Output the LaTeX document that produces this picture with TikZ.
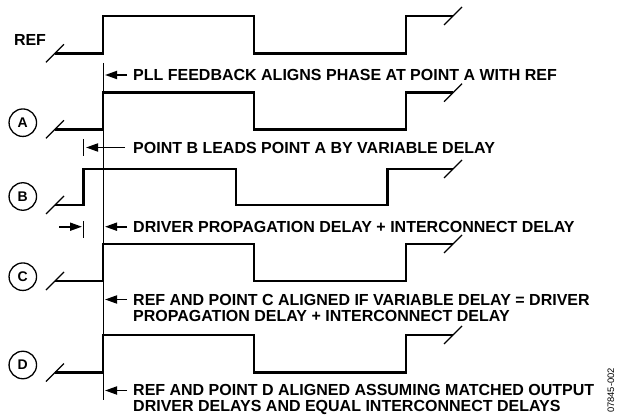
\documentclass[tikz,border=0pt]{standalone}
\usepackage{fontspec}
\setmainfont{Liberation Sans}
\usetikzlibrary{arrows.meta}
\newcommand\sigwave[5]{%
  \draw[sig] (55,#1) -- (#3,#1) -- (#3,#2) -- (#4,#2) -- (#4,#1) -- (#5,#1) -- (#5,#2) -- (453,#2);
  \draw[brk] (46,#1+9) -- (64,#1-9);
  \draw[brk] (444,#2+9) -- (462,#2-9);
}
\begin{document}
\begin{tikzpicture}[x=1pt,y=-1pt,
  sig/.style={line width=2.8pt, line join=miter, line cap=butt},
  brk/.style={line width=1.3pt},
  refline/.style={line width=0.9pt},
  tick/.style={line width=1.1pt},
  lbl/.style={circle, draw, line width=1.3pt, minimum size=27.5pt, inner sep=0pt, font=\fontsize{14}{14}\selectfont\bfseries},
  txt/.style={anchor=west, inner sep=0pt, font=\fontsize{16}{16}\selectfont\bfseries, align=left},
  arr/.style={line width=1.8pt, -{Triangle[length=12pt,width=8pt]}},
]
\useasboundingbox (0,0) rectangle (617,419);

% waveforms
\sigwave{53.3}{16}{103}{254}{406}
\sigwave{129.3}{92.7}{103}{254}{406}
\sigwave{205}{169}{83.3}{236}{387.3}
\sigwave{281}{244}{103}{254}{406}
\sigwave{372.5}{335}{103}{254}{406}

% labels
\node[font=\fontsize{16}{16}\selectfont\bfseries, inner sep=0pt] (reflbl) at (30,40) {REF};
\node[lbl] (A) at (22.8,122.7) {A};
\node[lbl] (B) at (22.8,196.5) {B};
\node[lbl] (C) at (22.8,276.7) {C};
\node[lbl] (D) at (22.8,365) {D};

% reference line
\coordinate (vtop) at (103.6,63);
\coordinate (vbot) at (103.6,400);
\draw[refline] (vtop) -- (vbot);

% ticks
\coordinate (k1a) at (83.3,139);
\coordinate (k1b) at (83.3,156);
\coordinate (k2a) at (83.3,221);
\coordinate (k2b) at (83.3,238);
\draw[tick] (k1a) -- (k1b);
\draw[tick] (k2a) -- (k2b);

% texts
\node[txt] (t1) at (133,75) {PLL FEEDBACK ALIGNS PHASE AT POINT A WITH REF};
\node[txt] (t2) at (133,147.5) {POINT B LEADS POINT A BY VARIABLE DELAY};
\node[txt] (t3) at (133,226.7) {DRIVER PROPAGATION DELAY + INTERCONNECT DELAY};
\node[txt, anchor=north west] (t4) at (133,294) {REF AND POINT C ALIGNED IF VARIABLE DELAY = DRIVER\\PROPAGATION DELAY + INTERCONNECT DELAY};
\node[txt, anchor=north west] (t5) at (133,384) {REF AND POINT D ALIGNED ASSUMING MATCHED OUTPUT\\DRIVER DELAYS AND EQUAL INTERCONNECT DELAYS};

% arrows
\coordinate (p1) at (105,75);
\coordinate (p2) at (86,147.5);
\coordinate (p3) at (105,226.7);
\coordinate (p4) at (105,299.5);
\coordinate (p5) at (105,390.5);
\coordinate (q3s) at (59,226.7);
\coordinate (q3e) at (82,226.7);
\draw[arr] (127,75) -- (p1);
\draw[arr] (125,147.5) -- (p2);
\draw[arr] (127,226.7) -- (p3);
\draw[arr] (127,299.5) -- (p4);
\draw[arr] (127,390.5) -- (p5);
\draw[arr] (q3s) -- (q3e);

\node[rotate=90, inner sep=0pt, font=\fontsize{9.4}{9.4}\selectfont] (fig) at (611,390.5) {07845-002};
\end{tikzpicture}
\end{document}
